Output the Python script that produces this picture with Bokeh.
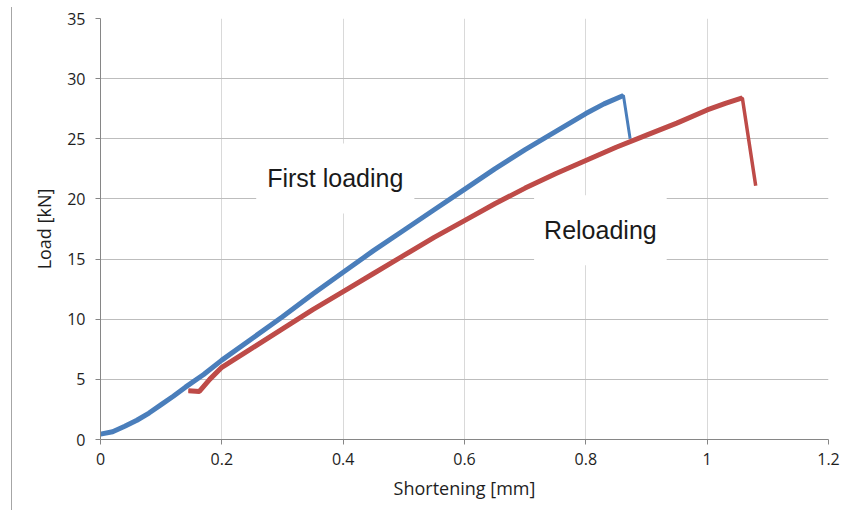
from bokeh.plotting import figure
from bokeh.models import Label, FixedTicker, Div
from bokeh.layouts import row
from bokeh.embed import file_html
from bokeh.resources import INLINE

# First loading (blue): shortening [mm], load [kN]
first_x = [0.0, 0.02, 0.04, 0.06, 0.08, 0.10, 0.12, 0.14, 0.17, 0.20, 0.25, 0.30,
           0.35, 0.40, 0.45, 0.50, 0.55, 0.60, 0.65, 0.70, 0.75, 0.80,
           0.83, 0.862, 0.873]
first_y = [0.45, 0.65, 1.1, 1.6, 2.2, 2.9, 3.6, 4.35, 5.4, 6.6, 8.4, 10.2,
           12.1, 13.9, 15.7, 17.4, 19.1, 20.8, 22.5, 24.1, 25.6, 27.1,
           27.9, 28.6, 25.0]

# Reloading (red)
re_x = [0.145, 0.163, 0.18, 0.20, 0.25, 0.30, 0.35, 0.40, 0.45, 0.50, 0.55,
        0.60, 0.65, 0.70, 0.75, 0.80, 0.85, 0.90, 0.95, 1.00, 1.03, 1.058, 1.080]
re_y = [4.05, 4.0, 5.0, 6.0, 7.6, 9.2, 10.8, 12.3, 13.8, 15.3, 16.8,
        18.2, 19.6, 20.9, 22.1, 23.2, 24.3, 25.3, 26.3, 27.4, 27.95, 28.4, 21.1]

x_ticks = [0, 0.2, 0.4, 0.6, 0.8, 1.0, 1.2]
x_tick_labels = ["0", "0.2", "0.4", "0.6", "0.8", "1", "1.2"]
y_ticks = [0, 5, 10, 15, 20, 25, 30, 35]

BLUE = "#4a7ebb"
RED = "#be4b48"
TICK_FONT = "Open Sans"

p = figure(width=839, height=510, x_range=(0, 1.2), y_range=(0, 35),
           output_backend="svg", toolbar_location=None,
           min_border_left=88, min_border_right=23, min_border_top=18,
           min_border_bottom=71)
p.outline_line_color = None
p.background_fill_color = "white"
p.border_fill_color = "white"

p.xaxis.ticker = FixedTicker(ticks=x_ticks)
p.xaxis.major_label_overrides = {t: l for t, l in zip(x_ticks, x_tick_labels)}
p.yaxis.ticker = FixedTicker(ticks=y_ticks)

for ax in (p.xaxis[0], p.yaxis[0]):
    ax.axis_line_color = "#868686"
    ax.axis_line_width = 1
    ax.major_tick_line_color = "#868686"
    ax.major_tick_in = 0
    ax.major_tick_out = 5
    ax.minor_tick_line_color = None
    ax.major_label_text_font = TICK_FONT
    ax.major_label_text_font_size = "16px"
    ax.major_label_text_color = "#1e1e1e"
    ax.axis_label_text_font = TICK_FONT
    ax.axis_label_text_font_size = "18px"
    ax.axis_label_text_font_style = "normal"
    ax.axis_label_text_color = "#1e1e1e"

p.xaxis.axis_label = "Shortening [mm]"
p.yaxis.axis_label = "Load [kN]"
p.xaxis.major_label_standoff = 8
p.yaxis.major_label_standoff = 10
p.xaxis.axis_label_standoff = 8
p.yaxis.axis_label_standoff = 8

p.ygrid.grid_line_color = "#bdbdbd"
p.xgrid.grid_line_color = "#d9d9d9"
p.xgrid.ticker = FixedTicker(ticks=x_ticks)
p.ygrid.ticker = FixedTicker(ticks=y_ticks)

# curves: thin line for the whole series (incl. final drop), thick for the loading branch
p.line(first_x, first_y, line_color=BLUE, line_width=3)
p.line(first_x[:-1], first_y[:-1], line_color=BLUE, line_width=5)
p.line(re_x, re_y, line_color=RED, line_width=3.5)
p.line(re_x[:-1], re_y[:-1], line_color=RED, line_width=5)

lab1 = Label(x=0.387, y=21.7, text="First loading", text_font="Liberation Sans",
             text_font_size="25px", text_color="#1a1a1a", text_align="center",
             text_baseline="middle", background_fill_color="white",
             padding=(11, 21))
lab2 = Label(x=0.824, y=17.4, text="Reloading", text_font="Liberation Sans",
             text_font_size="25px", text_color="#1a1a1a", text_align="center",
             text_baseline="middle", background_fill_color="white",
             padding=(10, 21))
p.add_layout(lab1)
p.add_layout(lab2)

side = Div(text="", width=12, height=503, margin=(7, 0, 0, 0),
           styles={"border-right": "1px solid #a6a6a6", "box-sizing": "border-box"})

layout = row(side, p, margin=0)
open("out.html", "w").write(file_html(layout, INLINE))
